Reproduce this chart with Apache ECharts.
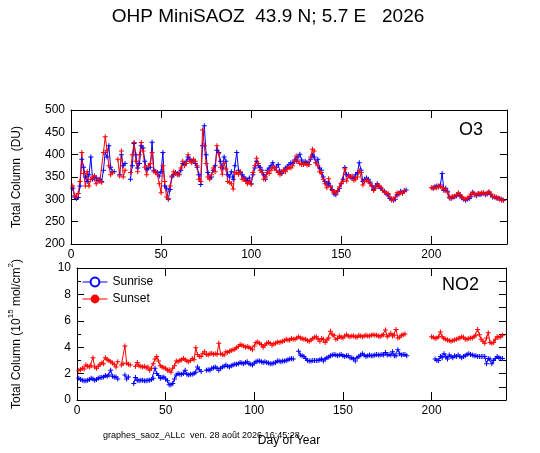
<!DOCTYPE html>
<html>
<head>
    <meta charset="UTF-8">
    <title>OHP MiniSAOZ</title>
    <script type="text/javascript" src="https://cdn.jsdelivr.net/npm/echarts@6/dist/echarts.min.js"></script>
    <style>
        html, body { margin: 0; padding: 0; background: #fff; }
    </style>
</head>
<body>
<div id="main" style="width: 540px;height:453px;"></div>
<script type="text/javascript">
    // values by day of year, first entry = day 1, null = no measurement
    var o3Sunset = [
        330, 308, 305, 313, 340, 405, 358, 330, 362, 330,
        345, 350, 352, 335, 345, 340, 338, 405, 440, 410,
        375, 355, 360, null, null, 390, 352, 408, 350, 365,
        null, null, 360, 400, 427, 385, 362, 400, 427, 408,
        372, 355, 375, 380, 405, 362, 362, 355, 335, 315,
        375, 340, 305, 302, 330, 352, 362, 358, 355, 356,
        370, 385, 375, 380, 400, 386, 382, 390, 385, 375,
        345, 340, 455, 420, 380, 350, 345, 355, 370, 362,
        420, 402, 372, 356, 380, 368, 340, 338, 335, 323,
        360, 360, 356, 362, 345, 346, 340, 335, 340, 334,
        360, 375, 392, 380, 365, 360, 345, 350, 360, 358,
        365, 372, 371, 365, 360, 355, 362, 365, 362, 368,
        372, 370, 375, 385, 397, 385, 380, 378, 378, 380,
        377, 378, 395, 412, 408, 382, 375, 362, 360, 345,
        335, 326, 346, 329, 320, 316, 314, 320, 328, 336,
        340, 368, 341, 352, 350, 352, 343, 345, 350, 364,
        360, 332, 340, 343, 340, 335, 330, 320, 325, 332,
        330, 327, 320, 316, 314, 313, 305, 298, 300, 305,
        315, 313, 315, 313, 319, null, null, null, null, null,
        null, null, null, null, null, null, null, null, null, 326,
        326, 326, 326, 330, 328, 326, 322, 322, 315, 303,
        305, 306, 307, 310, 315, 310, 305, 302, 300, 303,
        305, 312, 315, 310, 310, 313, 313, 315, 313, 312,
        314, 317, 312, 307, 306, 305, 303, 300, 298, 298
    ];
    var o3Sunrise = [
        325, 305, 302, 304, 330, 390, 372, 350, 340, 355,
        395, 345, 352, 348, 342, 345, 340, 365, 405, 395,
        420, 372, 362, 362, null, null, 355, 400, 375, 380,
        null, null, 345, 375, 425, 400, 370, 380, 420, 415,
        385, 368, 370, 372, 428, 365, 362, 360, 352, 362,
        405, 330, 325, 300, 322, 350, 355, 360, 358, 355,
        365, 380, 378, 385, 395, 390, 385, 388, 380, 372,
        355, 333, 420, 465, 400, 360, 348, 350, 365, 375,
        410, 405, 385, 370, 395, 385, 355, 350, 362, 345,
        375, 405, 365, 360, 355, 350, 345, 342, 348, 335,
        355, 370, 385, 375, 372, 365, 355, 345, 365, 370,
        375, 382, 370, 372, 378, 362, 358, 365, 370, 372,
        378, 382, 380, 388, 385, 395, 401, 388, 378, 385,
        382, 378, 390, 399, 395, 382, 390, 370, 365, 350,
        340, 335, 336, 330, 322, 312, 310, 318, 325, 335,
        345, 371, 355, 355, 350, 347, 348, 355, 360, 382,
        365, 340, 345, 348, 345, 338, 330, 322, 330, 335,
        328, 325, 320, 318, 312, 310, 302, 300, 298, 300,
        310, 312, 318, 315, 318, 321, null, null, null, null,
        null, null, null, null, null, null, null, null, null, null,
        325, 328, 330, 328, 332, 358, 320, 325, 318, 305,
        302, 305, 306, 308, 312, 308, 303, 300, 298, 300,
        302, 306, 316, 312, 308, 312, 310, 312, 315, 310,
        312, 316, 310, 305, 306, 303, 302, 302, 300, 298
    ];
    var no2Sunset = [
        2.25, 2.3, 2.4, 2.35, 2.65, 2.55, 2.5, 2.6, 3.2, 2.5,
        2.4, 2.55, 2.7, 2.8, 2.75, 3.2, 3.05, 3.0, 2.9, 2.8,
        2.7, 2.5, 2.9, null, 2.65, 2.75, 4.1, 2.8, 2.7, 2.65,
        null, null, 2.55, 2.85, 2.6, 2.55, 2.5, 2.55, 2.45, 2.5,
        2.25, 2.4, 2.75, 3.1, 3.3, 2.95, 2.6, 2.5, 2.45, 2.4,
        2.25, 2.3, 2.1, 2.4, 2.6, 2.95, 2.9, 3.0, 3.05, 3.15,
        3.05, 2.95, 2.9, 3.0, 3.15, 3.05, 3.95, 3.45, 3.3, 3.3,
        3.55, 3.65, 3.45, 3.4, 3.5, 3.55, 3.47, 3.5, 3.45, 4.3,
        3.5, 3.45, 3.4, 3.65, 3.6, 3.7, 3.75, 3.8, 3.85, 3.95,
        4.05, 4.2, 4.15, 4.1, 4.0, 4.05, 4.0, 3.9, 3.8, 4.1,
        4.35, 4.4, 4.3, 4.2, 4.0, 4.15, 4.3, 4.35, 4.3, 4.15,
        4.25, 4.3, 4.4, 4.35, 4.4, 4.45, 4.5, 4.6, 4.55, 4.55,
        4.65, 4.6, 4.6, 4.7, 4.8, 4.7, 4.65, 4.6, 4.6, 4.5,
        4.45, 4.55, 4.65, 4.75, 4.8, 4.6, 4.45, 4.65, 4.6, 4.35,
        4.55, 4.7, 5.2, 4.95, 4.9, 4.6, 4.65, 4.85, 4.75, 4.7,
        4.85, 4.95, 4.85, 4.8, 4.85, 4.85, 4.8, 4.75, 4.9, 4.85,
        4.8, 4.85, 4.9, 4.85, 4.85, 4.9, 4.95, 4.9, 4.9, 4.85,
        4.8, 4.9, 4.95, 5.3, 4.8, 4.9, 5.05, 4.85, 4.9, 5.35,
        4.7, 4.75, 4.9, 4.95, 5.0, null, null, null, null, null,
        null, null, null, null, null, null, null, null, null, 4.8,
        4.75, 4.65, 4.7, 4.8, 5.15, 4.8, 4.65, 4.6, 4.55, 4.5,
        4.45, 4.5, 4.55, 4.6, 4.65, 4.7, 4.8, 4.75, 4.6, 4.6,
        4.65, 4.7, 4.7, 4.8, 4.9, 5.35, 4.95, 4.6, 4.45, 4.3,
        4.7, 5.1, 4.35, 4.3, 4.35, 4.6, 4.8, 4.75, 4.8, 4.9
    ];
    var no2Sunrise = [
        1.65, 1.55, 1.5, 1.45, 1.45, 1.5, 1.55, 1.65, 1.6, 1.5,
        1.55, 1.65, 1.7, 1.7, 1.75, 1.85, 1.8, 1.9, 2.25, 1.8,
        1.75, 1.75, 1.6, null, null, null, 1.9, 1.6, 1.75, null,
        null, 1.25, 1.7, 1.5, 1.45, 1.5, 1.5, 1.45, 1.45, 1.5,
        1.5, 1.55, 1.65, 2.4, 2.0, 1.85, 1.65, 1.7, 1.75, 1.6,
        1.45, 1.15, 1.15, 1.25, 1.6, 1.9, 2.0, 1.95, 1.95, 2.0,
        2.25, 1.95, 1.9, 1.95, 1.95, 2.0, 2.1, 2.5, 2.3, 2.15,
        null, null, 2.25, 2.3, 2.25, 2.4, 2.45, 2.5, 2.4, 2.25,
        2.4, 2.5, 2.55, 2.65, 2.55, 2.5, 2.6, 2.65, 2.7, 2.7,
        2.75, 2.85, 2.8, 2.75, 2.85, 2.9, 2.75, 2.7, 2.65, 2.8,
        2.9, 2.95, 2.95, 2.9, 2.85, 2.9, 2.85, 2.8, 2.75, 2.75,
        2.8, 2.85, 2.95, 2.95, 2.9, 2.95, 2.95, 3.0, 3.05, 3.1,
        3.15, 3.1, null, null, 3.7, 3.4, 3.35, 3.3, 3.15, 3.0,
        2.95, 2.95, 3.0, 3.0, 3.0, 3.0, 3.05, 3.1, 2.95, 3.1,
        3.2, 3.25, 3.35, 3.4, 3.45, 3.4, 3.35, 3.4, 3.45, 3.35,
        3.3, 3.35, 3.35, 3.2, 3.2, 3.1, 2.95, 3.2, 3.3, 3.4,
        3.5, 3.4, 3.3, 3.35, 3.4, 3.35, 3.35, 3.4, 3.45, 3.4,
        3.4, 3.45, 3.4, 3.6, 3.4, 3.45, 3.4, 3.65, 3.35, 3.35,
        3.8, 3.5, 3.4, 3.45, 3.45, 3.35, null, null, null, null,
        null, null, null, null, null, null, null, null, null, null,
        null, 3.1, 3.0, 3.0, 3.3, 3.2, 3.5, 3.3, 3.1, 3.4,
        3.3, 3.2, 3.35, 3.3, 3.4, 3.3, 3.2, 3.3, 3.35, 3.45,
        3.5, 3.45, 3.4, 3.35, 3.35, 3.3, 3.3, 3.3, 3.3, 3.3,
        2.75, 3.15, 3.1, 2.75, 3.0, 3.15, 3.3, 3.2, 3.15, 3.15
    ];
    var xTicks = [0, 50, 100, 150, 200];
    var o3Ticks = [200, 250, 300, 350, 400, 450, 500];
    var no2Ticks = [0, 2, 4, 6, 8, 10];

    var FONT = '"Liberation Sans", Arial, sans-serif';
    var PLUS = 'path://M2,0H3V2H5V3H3V5H2V3H0V2H2Z';

    function toPairs(arr) {
        var out = [];
        for (var i = 0; i < arr.length; i++) {
            out.push([i + 1, arr[i] == null ? '-' : arr[i]]);
        }
        return out;
    }

    function xAx(grid, pos, labels) {
        return {
            type: 'value', gridIndex: grid, position: pos,
            min: xTicks[0], max: 242, interval: xTicks[1] - xTicks[0],
            axisLine: {show: true, onZero: false, lineStyle: {color: '#000', width: 1}},
            axisTick: {show: true, inside: true, length: 8, lineStyle: {color: '#000'}},
            axisLabel: {
                show: labels, color: '#000', fontSize: 12, fontFamily: FONT, margin: 5,
                formatter: function (v) { return xTicks.indexOf(v) >= 0 ? String(v) : ''; }
            },
            splitLine: {show: false}
        };
    }

    function yAx(grid, pos, ticks, step, labels, minor) {
        return {
            type: 'value', gridIndex: grid, position: pos,
            min: ticks[0], max: ticks[ticks.length - 1], interval: step,
            axisLine: {show: true, onZero: false, lineStyle: {color: '#000', width: 1}},
            axisTick: {show: true, inside: true, length: 7, lineStyle: {color: '#000'}},
            minorTick: {show: minor, splitNumber: 2, length: 4, lineStyle: {color: '#000'}},
            axisLabel: {show: labels, color: '#000', fontSize: 12, fontFamily: FONT, margin: 6},
            splitLine: {show: false}
        };
    }

    function lineSeries(name, xi, yi, color, arr) {
        return {
            name: name, type: 'line', xAxisIndex: xi, yAxisIndex: yi,
            data: toPairs(arr), connectNulls: false,
            symbol: PLUS, symbolSize: 5,
            itemStyle: {color: color},
            lineStyle: {color: color, width: 1},
            emphasis: {disabled: true}
        };
    }

    var myChart = echarts.init(document.getElementById('main'));
    var option = {
        animation: false,
        backgroundColor: '#fff',
        textStyle: {fontFamily: FONT},
        grid: [
            {left: 71, top: 110, width: 436, height: 134},
            {left: 77, top: 268, width: 429, height: 132}
        ],
        xAxis: [xAx(0, 'bottom', true), xAx(0, 'top', false), xAx(1, 'bottom', true), xAx(1, 'top', false)],
        yAxis: [
            yAx(0, 'left', o3Ticks, 50, true, false),
            yAx(0, 'right', o3Ticks, 50, false, false),
            yAx(1, 'left', no2Ticks, 2, true, true),
            yAx(1, 'right', no2Ticks, 1, false, false)
        ],
        legend: {
            data: ['Sunrise', 'Sunset'],
            orient: 'vertical', left: 82, top: 276, padding: 0,
            itemWidth: 25, itemHeight: 11, itemGap: 5,
            lineStyle: {width: 1},
            textStyle: {fontSize: 12, color: '#000', fontFamily: FONT},
            selectedMode: false
        },
        series: [
            lineSeries('o3am', 0, 0, '#0000ff', o3Sunrise),
            lineSeries('o3pm', 0, 0, '#ff0000', o3Sunset),
            lineSeries('no2am', 2, 2, '#0000ff', no2Sunrise),
            lineSeries('no2pm', 2, 2, '#ff0000', no2Sunset),
            {name: 'Sunrise', type: 'line', xAxisIndex: 2, yAxisIndex: 2, data: [],
                symbol: 'emptyCircle', symbolSize: 8,
                itemStyle: {color: '#0000ff', borderWidth: 1}, lineStyle: {color: '#0000ff', width: 1}},
            {name: 'Sunset', type: 'line', xAxisIndex: 2, yAxisIndex: 2, data: [],
                symbol: 'circle', symbolSize: 9,
                itemStyle: {color: '#ff0000', borderWidth: 0}, lineStyle: {color: '#ff0000', width: 1}}
        ],
        graphic: [
            {type: 'text', x: 268, y: 17, style: {text: 'OHP MiniSAOZ  43.9 N; 5.7 E   2026', font: '19px ' + FONT, fill: '#000', textAlign: 'center', textVerticalAlign: 'middle'}},
            {type: 'text', x: 459, y: 130, style: {text: 'O3', font: '18px ' + FONT, fill: '#000', textVerticalAlign: 'middle'}},
            {type: 'text', x: 442, y: 285, style: {text: 'NO2', font: '18px ' + FONT, fill: '#000', textVerticalAlign: 'middle'}},
            {type: 'text', x: 17, y: 177, rotation: Math.PI / 2,
                style: {text: 'Total Column  (DU)', font: '12px ' + FONT, fill: '#000', textAlign: 'center', textVerticalAlign: 'middle'}},
            {type: 'text', x: 17, y: 334, rotation: Math.PI / 2,
                style: {
                    text: 'Total Column (10{s|15} mol/cm{s|2})',
                    font: '12px ' + FONT, fill: '#000', textAlign: 'center', textVerticalAlign: 'middle',
                    rich: {s: {fontSize: 8, fontFamily: FONT, verticalAlign: 'top', lineHeight: 20}}
                }},
            {type: 'text', x: 103, y: 436, style: {text: 'graphes_saoz_ALLc  ven. 28 août 2026 16:45:28', font: '9px ' + FONT, fill: '#000', textVerticalAlign: 'middle'}},
            {type: 'text', x: 289, y: 441, style: {text: 'Day of Year', font: '12px ' + FONT, fill: '#000', textAlign: 'center', textVerticalAlign: 'middle'}}
        ]
    };
    myChart.setOption(option);
</script>
</body>
</html>
